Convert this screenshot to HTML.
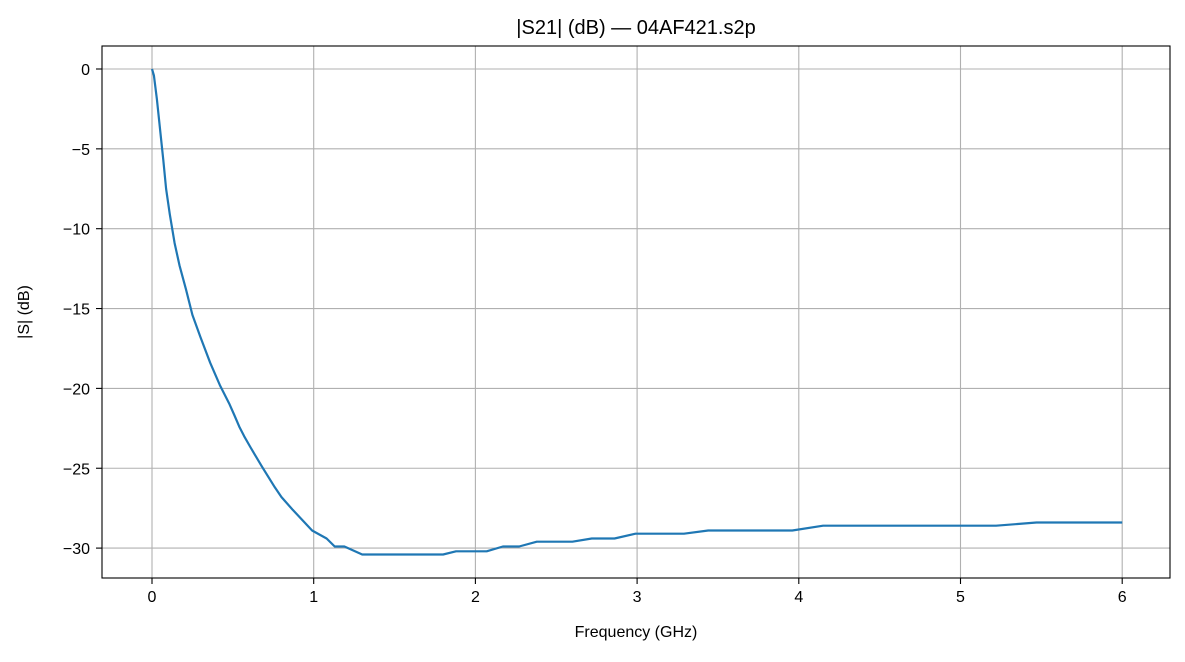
<!DOCTYPE html>
<html><head><meta charset="utf-8"><style>
body{margin:0;background:#fff;}
svg text{font-family:"Liberation Sans","DejaVu Sans",sans-serif;fill:#000;}
</style></head><body>
<svg id="chart" width="1185" height="657" xmlns="http://www.w3.org/2000/svg">
<rect width="1185" height="657" fill="#fff"/>
<g id="grid"></g>
<g id="ticks"></g>
<path id="line" fill="none" stroke="#1f77b4" stroke-width="2.2" stroke-linejoin="round"/>
<rect x="102" y="46" width="1068" height="532" fill="none" stroke="#000" stroke-width="1.1"/>
<text x="636" y="34" text-anchor="middle" font-size="20">|S21| (dB) — 04AF421.s2p</text>
<text x="636" y="637" text-anchor="middle" font-size="16">Frequency (GHz)</text>
<text transform="translate(29,312) rotate(-90)" text-anchor="middle" font-size="16">|S| (dB)</text>
</svg>
<script>
const freqs=[0,0.012,0.03,0.05,0.07,0.087,0.11,0.14,0.17,0.21,0.25,0.30,0.36,0.42,0.48,0.51,0.54,0.57,0.61,0.68,0.76,0.80,0.87,0.99,1.08,1.13,1.19,1.30,1.80,1.88,2.07,2.17,2.27,2.38,2.60,2.72,2.86,2.99,3.29,3.44,3.96,4.15,5.22,5.47,6.0];
const s21=[0,-0.4,-1.9,-3.8,-5.7,-7.5,-9.1,-10.9,-12.3,-13.8,-15.4,-16.8,-18.4,-19.8,-21.0,-21.7,-22.4,-23.0,-23.7,-24.9,-26.2,-26.8,-27.6,-28.9,-29.4,-29.9,-29.9,-30.4,-30.4,-30.2,-30.2,-29.9,-29.9,-29.6,-29.6,-29.4,-29.4,-29.1,-29.1,-28.9,-28.9,-28.6,-28.6,-28.4,-28.4];
const xTicks=[0,1,2,3,4,5,6];
const yTicks=[0,-5,-10,-15,-20,-25,-30];
const X=v=>152+v*161.7;
const Y=v=>69-v*15.97;
const NS="http://www.w3.org/2000/svg";
const grid=document.getElementById('grid'),ticks=document.getElementById('ticks');
function mk(tag,attrs,parent){const e=document.createElementNS(NS,tag);for(const k in attrs)e.setAttribute(k,attrs[k]);parent.appendChild(e);return e;}
xTicks.forEach(t=>{
  const x=X(t);
  const g=mk('line',{x1:x,x2:x,y1:46,y2:578,stroke:'#b0b0b0','stroke-width':1.1},grid);
  
  
  mk('line',{x1:x,x2:x,y1:578,y2:584,stroke:'#000','stroke-width':1.1},ticks);
  const tx=mk('text',{x:x,y:602,'text-anchor':'middle','font-size':16},ticks);
  tx.textContent=t;
  
  
});
yTicks.forEach(t=>{
  const y=Y(t);
  const g=mk('line',{x1:102,x2:1170,y1:y,y2:y,stroke:'#b0b0b0','stroke-width':1.1},grid);
  
  
  mk('line',{x1:96,x2:102,y1:y,y2:y,stroke:'#000','stroke-width':1.1},ticks);
  const tx=mk('text',{x:90,y:y+6,'text-anchor':'end','font-size':16},ticks);
  tx.textContent=t<0?'\u2212'+(-t):t;
  
  
});
document.getElementById('line').setAttribute('d',freqs.map((f,i)=>(i?'L':'M')+X(f).toFixed(1)+','+Y(s21[i]).toFixed(1)).join(''));
</script>
</body></html>
